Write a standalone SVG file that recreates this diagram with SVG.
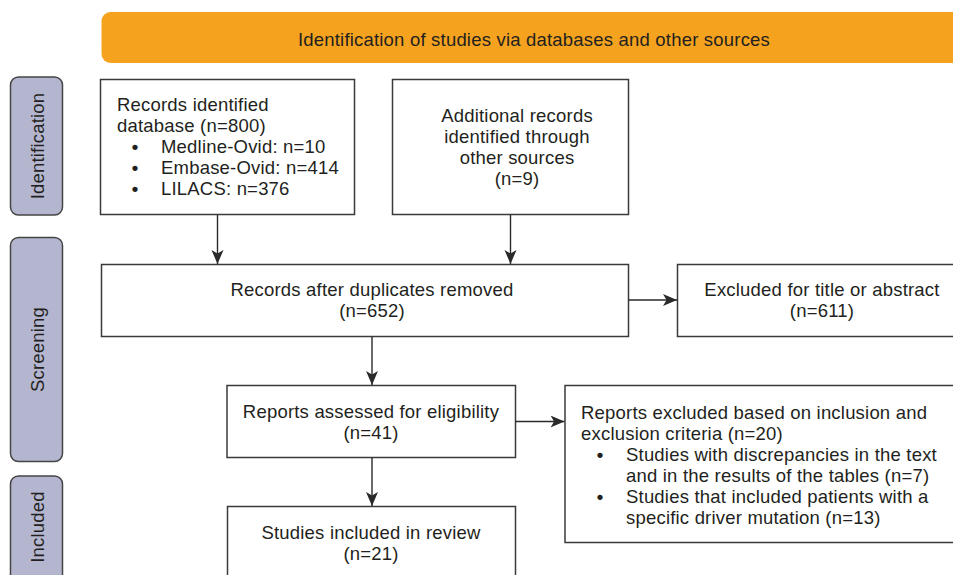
<svg xmlns="http://www.w3.org/2000/svg" width="953" height="575" viewBox="0 0 953 575">
<style>
.box{fill:#fff;stroke:#3a3a3a;stroke-width:1.5}
.side{fill:#b4b6cf;stroke:#454545;stroke-width:1.5}
.t{font-family:"Liberation Sans",Arial,sans-serif;font-size:18.5px;letter-spacing:0.2px;fill:#231f20}
.b{font-family:"Liberation Sans",Arial,sans-serif;font-size:18.5px;font-weight:bold;fill:#231f20;text-anchor:middle}
.c{text-anchor:middle}
.ln{stroke:#2a2a2a;stroke-width:1.4;fill:none;marker-end:url(#ah)}
</style>
<defs>
<marker id="ah" markerUnits="userSpaceOnUse" markerWidth="16" markerHeight="13" refX="14" refY="6" orient="auto">
<path d="M0,0 L14,6 L0,12 L3.5,6 z" fill="#2a2a2a"/>
</marker>
</defs>
<rect width="953" height="575" fill="#fff"/>
<g id="banner">
<rect x="101.5" y="12" width="870" height="51" rx="9" fill="#f5a31f"/>
<text class="t c" x="534" y="46">Identification of studies via databases and other sources</text>
</g>
<g id="side-identification">
<rect class="side" x="10.5" y="77" width="52" height="138" rx="8"/>
<text class="t c" transform="translate(44,146) rotate(-90)">Identification</text>
</g>
<g id="side-screening">
<rect class="side" x="10.5" y="237.5" width="52" height="224" rx="8"/>
<text class="t c" transform="translate(44,349.5) rotate(-90)">Screening</text>
</g>
<g id="side-included">
<rect class="side" x="10.5" y="476" width="52" height="120" rx="8"/>
<text class="t c" transform="translate(44,527) rotate(-90)">Included</text>
</g>
<g id="records-db">
<rect class="box" x="100.5" y="79.5" width="254" height="135"/>
<text class="t" x="117" y="111">Records identified</text>
<text class="t" x="117" y="132">database (n=800)</text>
<text class="b" x="135" y="153">•</text>
<text class="t" x="161" y="153">Medline-Ovid: n=10</text>
<text class="b" x="135" y="174">•</text>
<text class="t" x="161" y="174">Embase-Ovid: n=414</text>
<text class="b" x="135" y="195">•</text>
<text class="t" x="161" y="195">LILACS: n=376</text>
</g>
<g id="records-other">
<rect class="box" x="392.5" y="79.5" width="236" height="135"/>
<text class="t c" x="517" y="122">Additional records</text>
<text class="t c" x="517" y="143">identified through</text>
<text class="t c" x="517" y="164">other sources</text>
<text class="t c" x="517" y="185">(n=9)</text>
</g>
<g id="after-duplicates">
<rect class="box" x="101.5" y="264.5" width="527" height="72"/>
<text class="t c" x="372" y="296">Records after duplicates removed</text>
<text class="t c" x="372" y="317">(n=652)</text>
</g>
<g id="excluded-title">
<rect class="box" x="677.5" y="264.5" width="300" height="72"/>
<text class="t c" x="822" y="296">Excluded for title or abstract</text>
<text class="t c" x="822" y="317">(n=611)</text>
</g>
<g id="assessed">
<rect class="box" x="227" y="385.5" width="288.5" height="72"/>
<text class="t c" x="371" y="418">Reports assessed for eligibility</text>
<text class="t c" x="371" y="439">(n=41)</text>
</g>
<g id="excluded-reports">
<rect class="box" x="565" y="385.5" width="410" height="157"/>
<text class="t" x="581" y="419">Reports excluded based on inclusion and</text>
<text class="t" x="581" y="440">exclusion criteria (n=20)</text>
<text class="b" x="600" y="461">•</text>
<text class="t" x="626" y="461">Studies with discrepancies in the text</text>
<text class="t" x="626" y="482">and in the results of the tables (n=7)</text>
<text class="b" x="600" y="503">•</text>
<text class="t" x="626" y="503">Studies that included patients with a</text>
<text class="t" x="626" y="524">specific driver mutation (n=13)</text>
</g>
<g id="included">
<rect class="box" x="227.5" y="506.5" width="288" height="100"/>
<text class="t c" x="371" y="539">Studies included in review</text>
<text class="t c" x="371" y="560">(n=21)</text>
</g>
<g id="connectors">
<line class="ln" x1="217.5" y1="215" x2="217.5" y2="264"/>
<line class="ln" x1="510.5" y1="215" x2="510.5" y2="264"/>
<line class="ln" x1="628.5" y1="300" x2="677" y2="300"/>
<line class="ln" x1="372" y1="336.5" x2="372" y2="385"/>
<line class="ln" x1="515.5" y1="421.5" x2="564.5" y2="421.5"/>
<line class="ln" x1="372" y1="457.5" x2="372" y2="506"/>
</g>
</svg>
